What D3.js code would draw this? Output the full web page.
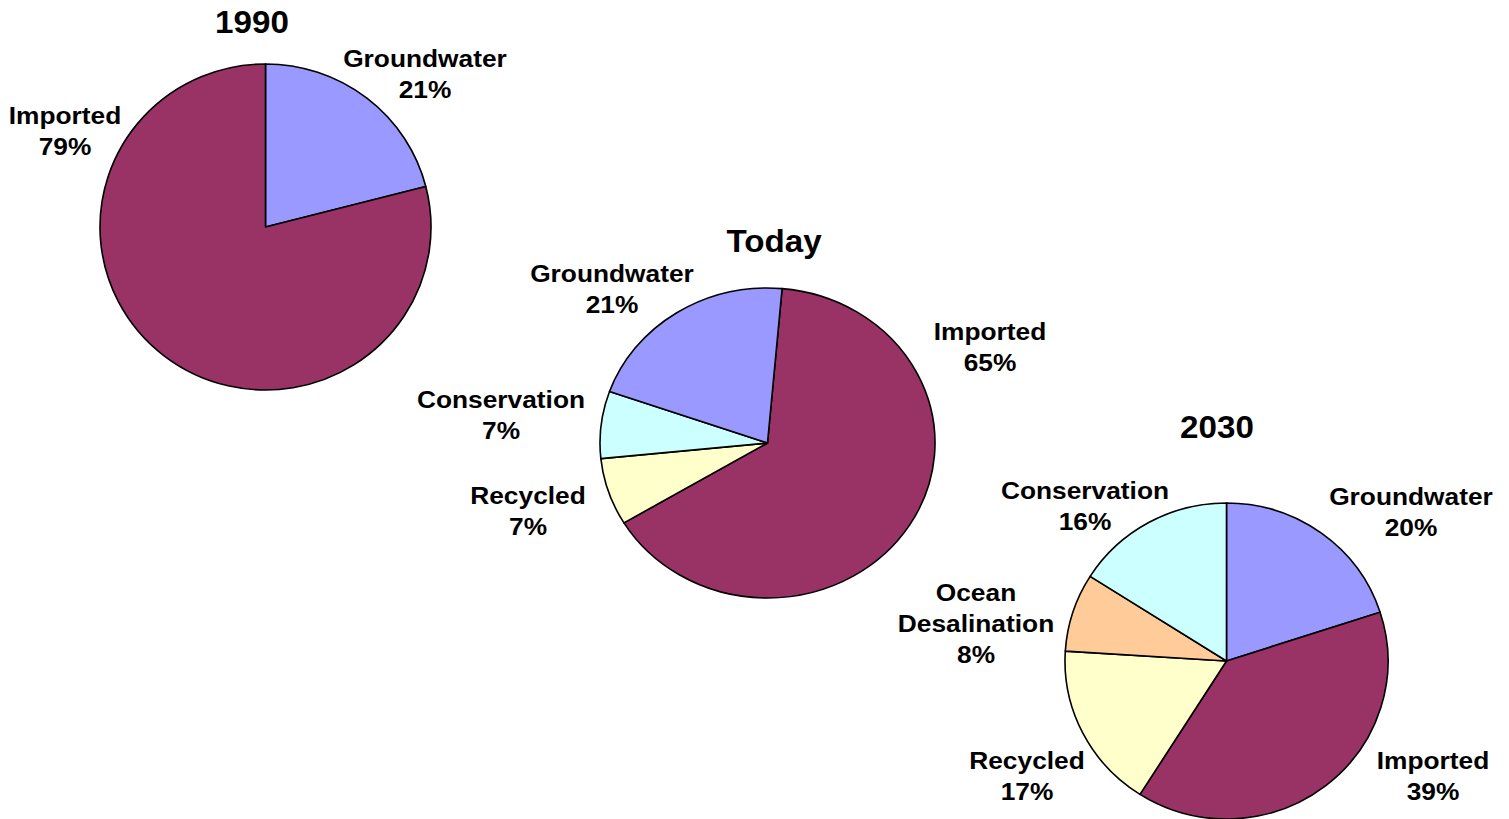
<!DOCTYPE html>
<html>
<head>
<meta charset="utf-8">
<script src="https://cdn.jsdelivr.net/npm/d3@7/dist/d3.min.js"></script>
<style>
  html, body { margin: 0; padding: 0; background: #fff; }
  svg { display: block; }
  text { font-family: "Liberation Sans", Arial, Helvetica, sans-serif; font-weight: bold; fill: #000; }
</style>
</head>
<body>
<svg id="chart" width="1509" height="819"></svg>
<script>
// Water supply mix, share of total (%)
const categories1990 = ["Groundwater", "Imported"];
const values1990 = [21, 79];

const categoriesToday = ["Imported", "Recycled", "Conservation", "Groundwater"];
const valuesToday = [65, 7, 7, 21];

const categories2030 = ["Groundwater", "Imported", "Recycled", "Ocean Desalination", "Conservation"];
const values2030 = [20, 39, 17, 8, 16];

const titles = ["1990", "Today", "2030"];

const colors = {
  "Imported": "#993366",
  "Groundwater": "#9999FF",
  "Conservation": "#CCFFFF",
  "Recycled": "#FFFFCC",
  "Ocean Desalination": "#FFCC99"
};

// Layout of each pie: centre, radii, rotation, title and label anchors
const layouts = [
  {
    cats: categories1990, vals: values1990, title: titles[0],
    cx: 265.5, cy: 227, rx: 165.5, ry: 163, rot: 0,
    titlePos: [252, 33],
    labels: {
      "Groundwater": [425, 67, ["Groundwater"]],
      "Imported": [65, 124, ["Imported"]]
    }
  },
  {
    cats: categoriesToday, vals: valuesToday, title: titles[1],
    cx: 767.5, cy: 443, rx: 167.5, ry: 155, rot: 5,
    titlePos: [774, 252],
    labels: {
      "Groundwater": [612, 282, ["Groundwater"]],
      "Imported": [990, 340, ["Imported"]],
      "Conservation": [501, 408, ["Conservation"]],
      "Recycled": [528, 504, ["Recycled"]]
    }
  },
  {
    cats: categories2030, vals: values2030, title: titles[2],
    cx: 1226.5, cy: 661, rx: 161.5, ry: 158, rot: 0,
    titlePos: [1217, 438],
    labels: {
      "Groundwater": [1411, 505, ["Groundwater"]],
      "Conservation": [1085, 499, ["Conservation"]],
      "Ocean Desalination": [976, 601, ["Ocean", "Desalination"]],
      "Recycled": [1027, 769, ["Recycled"]],
      "Imported": [1433, 769, ["Imported"]]
    }
  }
];

const svg = d3.select("#chart");
const lineH = 31;
const stretch = 1.12;

layouts.forEach(L => {
  const data = L.cats.map((c, i) => ({ cat: c, val: L.vals[i] }));
  const rotRad = L.rot * Math.PI / 180;
  const pie = d3.pie().sort(null).value(d => d.val)
    .startAngle(rotRad).endAngle(rotRad + 2 * Math.PI);
  const arc = d3.arc().innerRadius(0).outerRadius(L.rx);

  const g = svg.append("g")
    .attr("transform", `translate(${L.cx},${L.cy}) scale(1,${L.ry / L.rx})`);

  g.selectAll("path")
    .data(pie(data))
    .join("path")
    .attr("d", arc)
    .attr("fill", d => colors[d.data.cat])
    .attr("stroke", "#000")
    .attr("stroke-width", 1.6)
    .attr("stroke-linejoin", "round")
    .attr("vector-effect", "non-scaling-stroke");

  // Title
  svg.append("text")
    .attr("transform", `translate(${L.titlePos[0]},${L.titlePos[1]}) scale(1.07,1)`)
    .attr("text-anchor", "middle")
    .style("font-size", "31px")
    .text(L.title);

  // Category labels with percentage
  data.forEach(d => {
    const [x, y, lines] = L.labels[d.cat];
    const all = lines.concat([d.val + "%"]);
    all.forEach((t, i) => {
      svg.append("text")
        .attr("transform", `translate(${x},${y + i * lineH}) scale(${stretch},1)`)
        .attr("text-anchor", "middle")
        .style("font-size", "23.5px")
        .text(t);
    });
  });
});
</script>
</body>
</html>
